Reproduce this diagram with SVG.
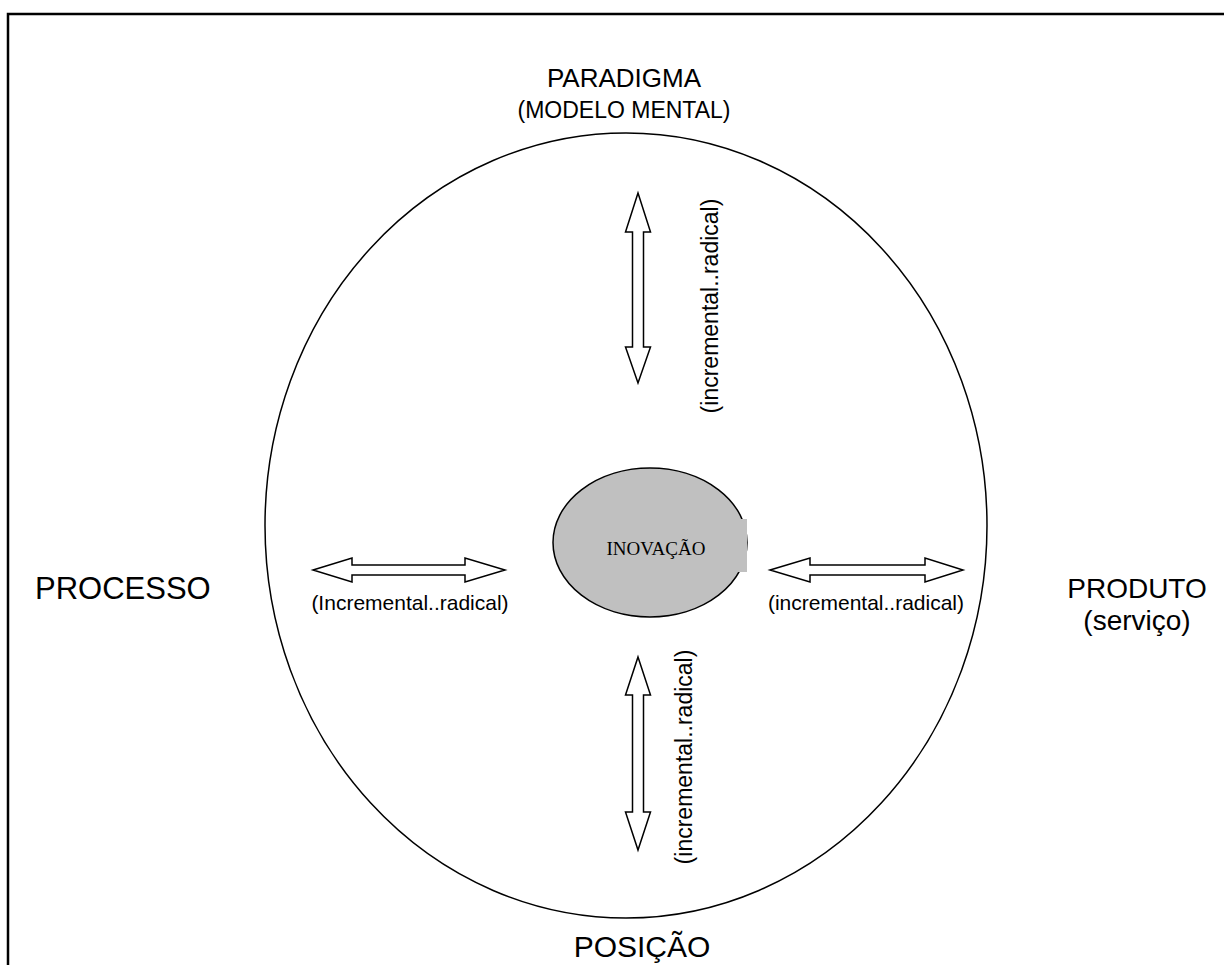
<svg xmlns="http://www.w3.org/2000/svg" width="1224" height="965" viewBox="0 0 1224 965">
<style>
.lbl{font-family:"Liberation Sans",Arial,sans-serif;fill:#000}
.sm{font-size:21px}
.vt{font-size:23px}
.arr{fill:#fff;stroke:#000;stroke-width:1.5;stroke-linejoin:miter}
</style>
<rect x="8" y="14" width="1240" height="1000" fill="#fff" stroke="#000" stroke-width="2.5"/>
<g id="outer-circle">
<ellipse cx="626" cy="525.5" rx="361" ry="392.5" fill="none" stroke="#000" stroke-width="1.5"/>
</g>
<g id="paradigma">
<text class="lbl" font-size="26" x="624" y="87" text-anchor="middle">PARADIGMA</text>
<text class="lbl" font-size="23" x="624" y="118" text-anchor="middle">(MODELO MENTAL)</text>
</g>
<g id="processo">
<text class="lbl" font-size="31" x="35" y="599">PROCESSO</text>
</g>
<g id="produto">
<text class="lbl" font-size="28" x="1137" y="598" text-anchor="middle">PRODUTO</text>
<text class="lbl" font-size="28" x="1137" y="630" text-anchor="middle">(serviço)</text>
</g>
<g id="posicao">
<text class="lbl" font-size="30" x="642" y="957" text-anchor="middle">POSIÇÃO</text>
</g>
<g id="inovacao">
<ellipse cx="650" cy="542.5" rx="97" ry="74.5" fill="#c0c0c0" stroke="#000" stroke-width="1.5"/>
<rect x="730" y="519" width="17" height="53" fill="#c0c0c0"/>
<text x="656" y="555" text-anchor="middle" font-family="Liberation Serif,'Times New Roman',serif" font-size="19">INOVAÇÃO</text>
</g>
<g id="connectors">
<polygon class="arr" points="638,193 650.5,232 643.5,232 643.5,347 650.5,347 638,383 625.5,347 632.5,347 632.5,232 625.5,232"/>
<polygon class="arr" points="638,657 650.5,695 643.5,695 643.5,812 650.5,812 638,850 625.5,812 632.5,812 632.5,695 625.5,695"/>
<polygon class="arr" points="313,570 352,558 352,565 465,565 465,558 505,570 465,582 465,575 352,575 352,582"/>
<polygon class="arr" points="770,570 810,558 810,565 925,565 925,558 963,570 925,582 925,575 810,575 810,582"/>
<text class="lbl sm" x="410" y="610" text-anchor="middle">(Incremental..radical)</text>
<text class="lbl sm" x="866" y="610" text-anchor="middle">(incremental..radical)</text>
<text class="lbl vt" transform="translate(718,306) rotate(-90)" text-anchor="middle">(incremental..radical)</text>
<text class="lbl vt" transform="translate(692,757) rotate(-90)" text-anchor="middle">(incremental..radical)</text>
</g>
</svg>
